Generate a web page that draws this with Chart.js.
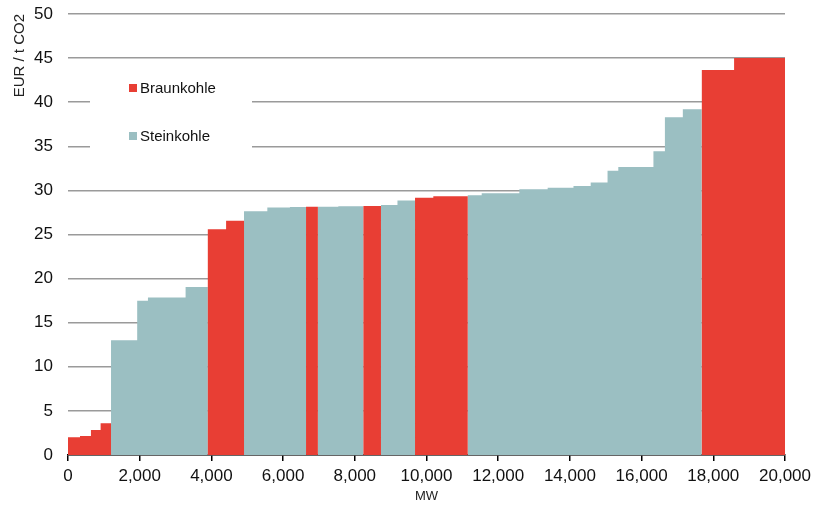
<!DOCTYPE html>
<html lang="en">
<head>
    <meta charset="UTF-8">
    <title>CO2-Vermeidungskosten Braunkohle / Steinkohle</title>
    <script src="https://cdn.jsdelivr.net/npm/chart.js"></script>
    <style>
        html, body { margin: 0; padding: 0; background: #fff; }
        #wrap { width: 815px; height: 506px; }
    </style>
</head>
<body>
    <div id="wrap"><canvas id="meritchart"></canvas></div>
<script>
    // Blockgrenzen (kumulierte MW), Kosten (EUR / t CO2), Brennstoff je Block
    const blockEnd = [335, 640, 910, 1200, 1930, 2230, 3280, 3900, 4410, 4910,
        5560, 6190, 6640, 6970, 7540, 8240, 8730, 9190, 9680, 10190,
        11150, 11540, 12590, 13380, 14100, 14580, 15050, 15350, 16330, 16650,
        17150, 17680, 18580, 20000];
    const blockCost = [2.0, 2.15, 2.83, 3.6, 13.0, 17.5, 17.85, 19.05, 25.6, 26.55,
        27.65, 28.05, 28.12, 28.15, 28.15, 28.2, 28.22, 28.35, 28.85, 29.18,
        29.33, 29.44, 29.67, 30.12, 30.3, 30.5, 30.9, 32.24, 32.65, 34.45,
        38.3, 39.2, 43.65, 45.0];
    const blockFuel = ['B', 'B', 'B', 'B', 'S', 'S', 'S', 'S', 'B', 'B',
        'S', 'S', 'S', 'B', 'S', 'S', 'B', 'S', 'S', 'B',
        'B', 'S', 'S', 'S', 'S', 'S', 'S', 'S', 'S', 'S',
        'S', 'S', 'B', 'B'];

    const fuels = [
        { key: 'B', label: 'Braunkohle', color: 'rgb(232, 62, 52)' },
        { key: 'S', label: 'Steinkohle', color: 'rgb(155, 191, 194)' }
    ];
    const xTickStep = 2000;
    const yTickStep = 5;

    // Eckpunkte der Bloecke je Brennstoff (Treppe, zwischen Bloecken auf 0)
    const cornersFor = (key) => {
        let pts = [];
        let start = 0;
        for (let i = 0; i < blockEnd.length; i++) {
            if (blockFuel[i] === key) {
                pts.push({ x: start, y: 0 }, { x: start, y: blockCost[i] },
                    { x: blockEnd[i], y: blockCost[i] }, { x: blockEnd[i], y: 0 });
            }
            start = blockEnd[i];
        }
        return pts;
    };

    const datasets = fuels.map(f => ({
        label: f.label,
        data: cornersFor(f.key),
        backgroundColor: f.color,
        borderColor: f.color,
        borderWidth: 0,
        pointRadius: 0,
        fill: 'origin',
        tension: 0
    }));

    const family = '"Liberation Sans", Arial, sans-serif';

    // Legende im Diagramm, mit weissem Hintergrund ueber den Gitterlinien
    const insideLegend = {
        id: 'insideLegend',
        beforeDatasetsDraw(chart) {
            const ctx = chart.ctx;
            ctx.save();
            ctx.fillStyle = '#fff';
            ctx.fillRect(90, 60, 162, 128);
            ctx.font = '15px ' + family;
            ctx.textBaseline = 'middle';
            fuels.forEach((f, i) => {
                const y = 88 + i * 48;
                ctx.fillStyle = f.color;
                ctx.fillRect(129, y - 4, 8, 8);
                ctx.fillStyle = '#111';
                ctx.fillText(f.label, 140, y + 0.5);
            });
            ctx.restore();
        }
    };

    const tickFont = { family: family, size: 17 };

    new Chart(document.getElementById('meritchart'), {
        type: 'line',
        data: { datasets: datasets },
        plugins: [insideLegend],
        options: {
            responsive: true,
            maintainAspectRatio: false,
            animation: false,
            layout: { padding: { top: 14, right: 30, left: 0, bottom: 0 } },
            plugins: {
                legend: { display: false },
                tooltip: { enabled: false }
            },
            scales: {
                x: {
                    type: 'linear',
                    min: 0,
                    max: 20000,
                    ticks: {
                        stepSize: xTickStep,
                        color: '#111',
                        font: tickFont,
                        padding: 5,
                        maxRotation: 0,
                        callback: v => v.toLocaleString('en-US')
                    },
                    grid: {
                        drawOnChartArea: false,
                        drawTicks: true,
                        tickLength: 6,
                        color: '#000',
                        lineWidth: 1.5
                    },
                    border: { display: true, color: '#000', width: 1.5 },
                    title: {
                        display: true,
                        text: 'MW',
                        color: '#222',
                        font: { family: family, size: 13 },
                        padding: { top: 2, bottom: 2 }
                    },
                    afterFit: s => {
                        s.height = 51;
                        s.paddingLeft = 0;
                        s.paddingRight = 0;
                    }
                },
                y: {
                    min: 0,
                    max: 50,
                    ticks: {
                        stepSize: yTickStep,
                        color: '#111',
                        font: tickFont,
                        padding: 15
                    },
                    grid: {
                        drawTicks: false,
                        color: '#9a9a9a',
                        lineWidth: 1.5
                    },
                    border: { display: false },
                    title: {
                        display: true,
                        text: 'EUR / t CO2',
                        align: 'end',
                        color: '#222',
                        font: { family: family, size: 15 },
                        padding: { top: 10.5, bottom: 4 }
                    },
                    afterFit: s => {
                        s.width = 68;
                        s.paddingTop = 0;
                        s.paddingBottom = 0;
                    }
                }
            }
        }
    });
</script>
</body>
</html>
